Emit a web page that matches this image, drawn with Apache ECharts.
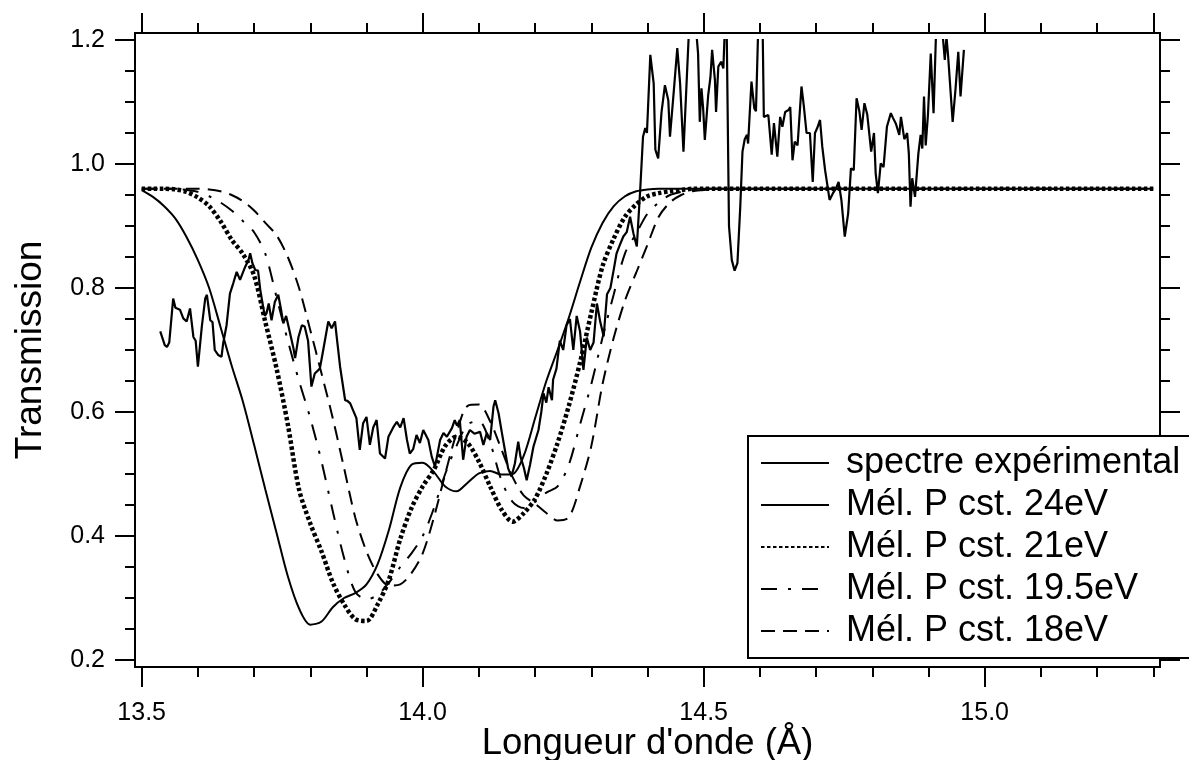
<!DOCTYPE html>
<html><head><meta charset="utf-8">
<script src="https://cdn.jsdelivr.net/npm/echarts@6/dist/echarts.min.js"></script>
<style>html,body{margin:0;padding:0;background:#fff}#c{width:1189px;height:760px}</style>
</head><body><div id="c"></div>
<script>
// ---------- data ----------
const seriesNames = ['spectre expérimental', 'Mél. P cst. 24eV', 'Mél. P cst. 21eV', 'Mél. P cst. 19.5eV', 'Mél. P cst. 18eV'];

const expX = [13.533,13.536,13.541,13.545,13.549,13.556,13.560,13.568,13.574,13.580,13.586,13.592,13.596,13.600,13.607,13.613,13.616,13.622,13.626,13.630,13.636,13.642,13.645,13.651,13.657,13.663,13.669,13.675,13.684,13.690,13.693,13.697,13.702,13.707,13.711,13.716,13.719,13.722,13.726,13.731,13.737,13.743,13.748,13.752,13.757,13.762,13.770,13.773,13.779,13.785,13.790,13.796,13.802,13.808,13.817,13.823,13.832,13.838,13.844,13.847,13.853,13.862,13.866,13.871,13.876,13.882,13.888,13.894,13.900,13.906,13.912,13.918,13.924,13.933,13.939,13.948,13.954,13.960,13.966,13.972,13.977,13.983,13.989,13.995,14.001,14.004,14.010,14.016,14.022,14.031,14.037,14.043,14.052,14.057,14.061,14.066,14.072,14.078,14.084,14.092,14.102,14.108,14.114,14.120,14.126,14.129,14.135,14.141,14.146,14.152,14.158,14.164,14.170,14.174,14.180,14.185,14.191,14.197,14.206,14.211,14.215,14.220,14.224,14.230,14.232,14.238,14.244,14.250,14.256,14.262,14.268,14.274,14.280,14.286,14.292,14.298,14.304,14.310,14.316,14.322,14.328,14.334,14.340,14.345,14.351,14.357,14.363,14.369,14.375,14.381,14.387,14.392,14.396,14.399,14.405,14.411,14.414,14.419,14.425,14.431,14.437,14.440,14.447,14.453,14.458,14.464,14.469,14.473,14.478,14.484,14.488,14.490,14.493,14.496,14.499,14.502,14.508,14.512,14.515,14.520,14.522,14.526,14.531,14.535,14.538,14.541,14.545,14.550,14.555,14.560,14.565,14.569,14.573,14.577,14.579,14.585,14.590,14.593,14.597,14.601,14.605,14.607,14.615,14.621,14.625,14.631,14.636,14.640,14.645,14.651,14.654,14.658,14.662,14.667,14.674,14.678,14.683,14.689,14.694,14.698,14.702,14.707,14.711,14.716,14.724,14.730,14.735,14.740,14.745,14.751,14.757,14.762,14.767,14.772,14.777,14.781,14.786,14.791,14.798,14.803,14.806,14.810,14.815,14.820,14.826,14.833,14.837,14.842,14.848,14.851,14.857,14.862,14.865,14.868,14.871,14.876,14.882,14.886,14.889,14.892,14.895,14.899,14.904,14.909,14.913,14.917,14.922,14.926,14.929,14.932,14.935,14.943,14.948,14.953,14.957,14.963];
const expY = [0.730,0.732,0.708,0.705,0.712,0.783,0.768,0.765,0.751,0.746,0.767,0.721,0.715,0.673,0.738,0.783,0.789,0.748,0.745,0.700,0.692,0.689,0.711,0.740,0.791,0.808,0.826,0.813,0.834,0.845,0.856,0.840,0.829,0.828,0.797,0.770,0.755,0.759,0.775,0.748,0.778,0.789,0.765,0.743,0.755,0.735,0.703,0.687,0.721,0.740,0.738,0.715,0.641,0.662,0.670,0.700,0.746,0.735,0.746,0.721,0.673,0.619,0.618,0.614,0.603,0.590,0.539,0.582,0.592,0.547,0.575,0.587,0.533,0.525,0.560,0.576,0.584,0.575,0.590,0.555,0.533,0.540,0.563,0.550,0.571,0.574,0.555,0.528,0.512,0.555,0.566,0.560,0.574,0.587,0.578,0.587,0.523,0.560,0.571,0.565,0.568,0.547,0.566,0.555,0.609,0.619,0.598,0.566,0.540,0.509,0.496,0.517,0.552,0.528,0.510,0.490,0.515,0.544,0.571,0.600,0.630,0.615,0.640,0.619,0.652,0.670,0.715,0.700,0.740,0.750,0.700,0.755,0.730,0.668,0.720,0.700,0.712,0.775,0.745,0.722,0.790,0.800,0.830,0.856,0.870,0.883,0.890,0.915,0.888,0.867,0.958,1.044,1.058,1.050,1.176,1.130,1.023,1.009,1.084,1.127,1.103,1.044,1.120,1.187,1.130,1.020,1.120,1.200,1.260,1.250,1.200,1.178,1.068,1.122,1.090,1.039,1.111,1.140,1.184,1.135,1.084,1.157,1.165,1.154,1.230,1.210,0.900,0.845,0.828,0.840,0.930,1.020,1.040,1.047,1.033,1.133,1.090,1.085,1.220,1.250,1.210,1.076,1.079,1.015,1.066,1.012,1.076,1.060,1.084,1.087,1.092,1.006,1.036,1.030,1.125,1.095,1.050,1.050,0.971,1.050,1.058,1.071,1.028,0.990,0.942,0.953,0.960,0.971,0.942,0.883,0.920,0.993,0.990,1.106,1.085,1.055,1.098,1.080,1.020,1.050,0.985,0.953,1.001,0.995,1.060,1.082,1.074,1.065,1.047,1.076,1.040,1.050,1.017,0.931,0.977,0.947,1.017,1.047,1.025,1.109,1.030,1.079,1.178,1.082,1.200,1.240,1.230,1.200,1.168,1.205,1.173,1.068,1.120,1.181,1.109,1.184];

const modelX = [13.50,13.52,13.54,13.56,13.58,13.60,13.62,13.64,13.66,13.68,13.70,13.72,13.74,13.76,13.78,13.80,13.82,13.84,13.86,13.88,13.90,13.92,13.94,13.96,13.98,14.00,14.02,14.04,14.06,14.08,14.10,14.12,14.14,14.16,14.18,14.20,14.22,14.24,14.26,14.28,14.30,14.32,14.34,14.36,14.38,14.40,14.42,14.44,14.46,14.48,14.50,14.52,14.54,14.56,14.58,14.60,15.30];
const model24 = [0.958,0.947,0.932,0.912,0.882,0.845,0.800,0.738,0.675,0.617,0.547,0.475,0.405,0.335,0.283,0.257,0.262,0.285,0.300,0.308,0.322,0.355,0.410,0.478,0.515,0.518,0.503,0.480,0.472,0.486,0.501,0.505,0.499,0.500,0.530,0.590,0.650,0.700,0.752,0.810,0.865,0.905,0.932,0.948,0.956,0.959,0.960,0.960,0.960,0.960,0.960,0.960,0.960,0.960,0.960,0.960,0.960];
const model21 = [0.960,0.960,0.960,0.959,0.955,0.946,0.932,0.908,0.878,0.855,0.820,0.745,0.670,0.580,0.475,0.420,0.375,0.325,0.290,0.266,0.263,0.290,0.330,0.395,0.445,0.480,0.507,0.545,0.560,0.550,0.520,0.480,0.443,0.423,0.437,0.460,0.500,0.550,0.610,0.680,0.760,0.835,0.880,0.915,0.935,0.948,0.953,0.956,0.958,0.960,0.960,0.960,0.960,0.960,0.960,0.960,0.960];
const model195 = [0.960,0.960,0.960,0.960,0.958,0.955,0.948,0.938,0.925,0.908,0.890,0.855,0.785,0.715,0.650,0.590,0.520,0.440,0.365,0.310,0.298,0.305,0.325,0.350,0.372,0.400,0.445,0.500,0.545,0.580,0.585,0.550,0.490,0.455,0.445,0.455,0.470,0.480,0.515,0.580,0.645,0.720,0.790,0.856,0.888,0.920,0.938,0.950,0.955,0.958,0.960,0.960,0.960,0.960,0.960,0.960,0.960];
const model18 = [0.960,0.960,0.960,0.960,0.960,0.960,0.959,0.956,0.950,0.940,0.925,0.905,0.885,0.850,0.800,0.732,0.662,0.590,0.510,0.430,0.375,0.338,0.320,0.322,0.340,0.372,0.430,0.500,0.565,0.610,0.612,0.585,0.540,0.495,0.465,0.452,0.437,0.425,0.430,0.480,0.545,0.645,0.720,0.780,0.825,0.870,0.915,0.938,0.950,0.956,0.958,0.960,0.960,0.960,0.960,0.960,0.960];

const xMajorBottom = [13.5, 14.0, 14.5, 15.0];
const xMajorTop = [13.5, 14.0, 14.5, 15.0, 15.3];
const xTitle = "Longueur d'onde (Å)";
const yTitle = 'Transmission';

// ---------- chart ----------
const FONT = 'Liberation Sans, Arial, sans-serif';
const tickLine = {color: '#000', width: 2};
const pairs = (xs, ys) => xs.map((x, i) => [x, ys[i]]);

const xBase = {type: 'value', min: 13.5, max: 15.3, splitLine: {show: false}, axisLine: {show: false}};
const yBase = {type: 'value', min: 0.2, max: 1.2, interval: 0.2, splitLine: {show: false}, axisLine: {show: false},
  axisTick: {length: 20, lineStyle: tickLine},
  minorTick: {show: true, splitNumber: 4, length: 10, lineStyle: tickLine}};

const styles = [
  {width: 2.2, type: 'solid'},
  {width: 2, type: 'solid'},
  {width: 4.5, type: [3.5, 2.5]},
  {width: 2, type: [16, 11, 3, 11]},
  {width: 2, type: [14, 8]}
];
const datasets = [pairs(expX, expY), pairs(modelX, model24), pairs(modelX, model21), pairs(modelX, model195), pairs(modelX, model18)];

const option = {
  animation: false,
  backgroundColor: '#fff',
  grid: {left: 141.7, right: 35.7, top: 40, bottom: 100, containLabel: false, outerBoundsMode: 'none'},
  xAxis: [
    Object.assign({}, xBase, {position: 'bottom', offset: 7, interval: 0.1,
      axisTick: {length: 10, lineStyle: tickLine}, axisLabel: {show: false}}),
    Object.assign({}, xBase, {position: 'bottom', offset: 7,
      axisTick: {customValues: xMajorBottom, length: 20, lineStyle: tickLine},
      axisLabel: {customValues: xMajorBottom, formatter: v => v.toFixed(1), margin: 34, fontSize: 25, color: '#000', fontFamily: FONT},
      name: xTitle, nameLocation: 'middle', nameGap: 58, nameMoveOverlap: false,
      nameTextStyle: {fontSize: 36.5, color: '#000', fontFamily: FONT}}),
    Object.assign({}, xBase, {position: 'top', offset: 7, interval: 0.1,
      axisTick: {length: 10, lineStyle: tickLine}, axisLabel: {show: false}}),
    Object.assign({}, xBase, {position: 'top', offset: 7,
      axisTick: {customValues: xMajorTop, length: 20, lineStyle: tickLine}, axisLabel: {show: false}})
  ],
  yAxis: [
    Object.assign({}, yBase, {position: 'left', offset: 6.7,
      axisLabel: {margin: 30, fontSize: 25, color: '#000', fontFamily: FONT, formatter: v => v.toFixed(1)},
      name: yTitle, nameLocation: 'middle', nameGap: 86, nameMoveOverlap: false,
      nameTextStyle: {fontSize: 37, color: '#000', fontFamily: FONT}}),
    Object.assign({}, yBase, {position: 'right', offset: 6.7, axisLabel: {show: false}})
  ],
  legend: {
    orient: 'vertical', left: 748, top: 436,
    padding: [9, 40, 9, 12], itemGap: 6, itemWidth: 68, itemHeight: 36,
    backgroundColor: '#fff', borderColor: '#000', borderWidth: 2, borderRadius: 0,
    selectedMode: false,
    itemStyle: {opacity: 0, borderWidth: 0},
    textStyle: {fontSize: 36, fontFamily: FONT, color: '#000', lineHeight: 36, padding: [0, 0, 0, 12]},
    data: seriesNames
  },
  graphic: [{
    type: 'rect', z: 1, silent: true,
    shape: {x: 135, y: 33, width: 1025, height: 634},
    style: {fill: 'none', stroke: '#000', lineWidth: 2}
  }],
  series: seriesNames.map((name, i) => ({
    name: name, type: 'line', xAxisIndex: 0, yAxisIndex: 0,
    data: datasets[i], symbol: 'none', showSymbol: false,
    smooth: i === 0 ? false : 0.3,
    silent: true, emphasis: {disabled: true},
    lineStyle: {color: '#000', width: styles[i].width, type: styles[i].type},
    itemStyle: {color: '#000'},
    z: 3 + (i === 0 ? 1 : 0)
  }))
};

const chart = echarts.init(document.getElementById('c'));
chart.setOption(option);
</script>
</body></html>
